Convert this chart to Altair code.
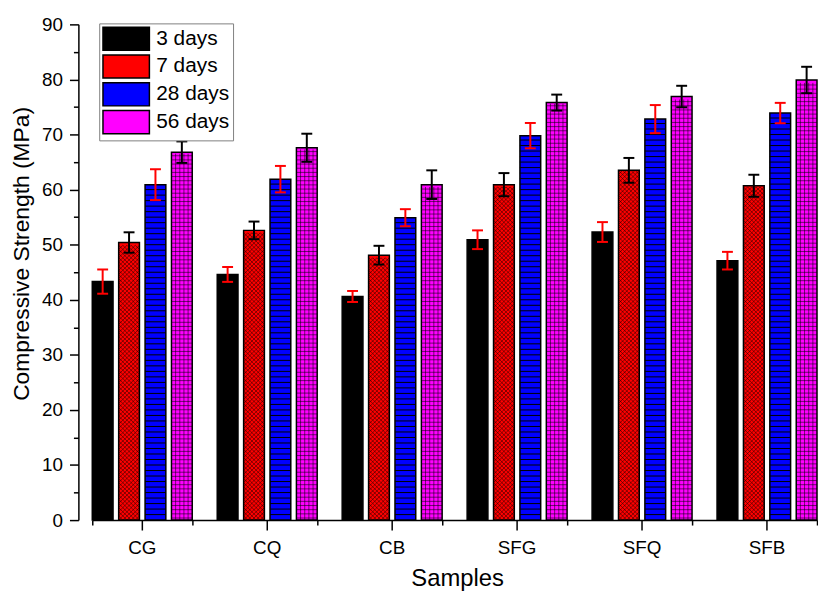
import altair as alt
import pandas as pd

# ---- data ----
samples = ["CG", "CQ", "CB", "SFG", "SFQ", "SFB"]
ages = ["3 days", "7 days", "28 days", "56 days"]

strength_3d = [43.3, 44.6, 40.6, 50.9, 52.3, 47.1]
strength_7d = [50.4, 52.6, 48.1, 60.9, 63.5, 60.7]
strength_28d = [60.9, 61.9, 54.9, 69.8, 72.8, 73.9]
strength_56d = [66.8, 67.6, 60.9, 75.8, 76.9, 79.9]

err_3d = [2.2, 1.35, 1.0, 1.7, 1.8, 1.6]
err_7d = [1.85, 1.6, 1.7, 2.1, 2.25, 2.0]
err_28d = [2.8, 2.4, 1.55, 2.3, 2.55, 1.85]
err_56d = [1.95, 2.55, 2.6, 1.45, 1.95, 2.4]

major_y_ticks = list(range(0, 91, 10))
minor_y_ticks = list(range(5, 90, 10))

# ---- styles ----
fill_colors = ["#000000", "#ff0000", "#0000ff", "#ff00ff"]
err_colors = ["#ff0000", "#000000", "#ff0000", "#000000"]
FONT = "Liberation Sans"

values = [strength_3d, strength_7d, strength_28d, strength_56d]
errors = [err_3d, err_7d, err_28d, err_56d]
rows = []
for i, age in enumerate(ages):
    for j, s in enumerate(samples):
        v, e = values[i][j], errors[i][j]
        rows.append(dict(Sample=s, Age=age, Strength=v, lo=v - e, hi=v + e,
                         ecolor=err_colors[i]))
df = pd.DataFrame(rows)

# pattern glyphs (unit = half bar width)
HLINE = "M-1,0L1,0"
xc = [-0.8, -0.4, 0.0, 0.4, 0.8]
h = 0.2
CROSS = "".join(
    f"M{c - h:.4f},{-h:.4f}L{c + h:.4f},{h:.4f}M{c + h:.4f},{-h:.4f}L{c - h:.4f},{h:.4f}"
    for c in xc
)
gx = [-0.6, -0.2, 0.2, 0.6]
GRID = "M-1,0L1,0" + "".join(f"M{c},-0.2L{c},0.2" for c in gx)


def xenc(axis=None):
    return alt.X("Sample:N", sort=samples,
                 scale=alt.Scale(domain=samples, range=[14, 745],
                                 paddingInner=0.2, paddingOuter=0),
                 axis=axis)


xoff = alt.XOffset("Age:N", sort=ages,
                   scale=alt.Scale(domain=ages, paddingInner=0.213, paddingOuter=0))


def yenc(field, axis=None):
    return alt.Y(f"{field}:Q", scale=alt.Scale(domain=[0, 90], nice=False), axis=axis)


x_main_axis = alt.Axis(
    title="Samples", titleFontSize=24, titleFont=FONT, titleFontWeight="normal",
    titleX=382, titleY=66, titleBaseline="alphabetic", titleColor="black",
    labelFontSize=19, labelFont=FONT, labelColor="black", labelAngle=0,
    labelPadding=9, tickSize=10, tickWidth=1.5, tickColor="black",
    domainColor="black", domainWidth=1.5, grid=False, orient="bottom",
)
x_minor_axis = alt.Axis(
    title=None, labels=False, domain=False, tickBand="extent", tickSize=5,
    tickWidth=1.5, tickColor="black", grid=False, orient="bottom",
)
y_axis = alt.Axis(
    title="Compressive Strength (MPa)", titleFontSize=23, titleFont=FONT,
    titleFontWeight="normal", titleColor="black", titleX=-57, titleY=231,
    titleBaseline="middle", titleAngle=270, titleAlign="center",
    values=major_y_ticks,
    labelFontSize=19, labelFont=FONT, labelColor="black", labelPadding=7,
    tickSize=9, tickWidth=1.5, tickColor="black",
    domainColor="black", domainWidth=1.5, grid=False, orient="left",
)
y_minor_axis = alt.Axis(
    title=None, labels=False, domain=False, values=minor_y_ticks, tickSize=5,
    tickWidth=1.5, tickColor="black", grid=False, orient="left",
)

legend = alt.Legend(
    title=None, orient="none", legendX=21, legendY=-1,
    symbolType="M-1,-1L3,-1L3,1L-1,1Z", symbolSize=548,
    symbolStrokeColor="black", symbolStrokeWidth=1.5, symbolOpacity=1,
    labelFontSize=21, labelFont=FONT, labelColor="black", labelOffset=29.5,
    labelLimit=300, padding=3, rowPadding=-5.6,
    strokeColor="#808080", fillColor="white",
)

bars = alt.Chart(df).mark_bar(stroke="black", strokeWidth=1.5).encode(
    x=xenc(x_main_axis), xOffset=xoff, y=yenc("Strength", y_axis),
    color=alt.Color("Age:N", sort=ages,
                    scale=alt.Scale(domain=ages, range=fill_colors), legend=legend),
)


def pattern(age, expr, shape, sw):
    return (
        alt.Chart(df)
        .transform_filter(alt.datum.Age == age)
        .transform_calculate(py=expr)
        .transform_flatten(["py"])
        .mark_point(shape=shape, size=441, filled=False, stroke="black",
                    strokeWidth=sw, opacity=1)
        .encode(x=xenc(), xOffset=xoff, y=yenc("py"))
    )


red_pat = pattern("7 days", "sequence(0.378, datum.Strength - 0.3, 0.756)", CROSS, 0.5)
blue_pat = pattern("28 days", "sequence(1, datum.Strength, 1)", HLINE, 1)
mag_pat = pattern("56 days", "sequence(0.378, datum.Strength - 0.3, 0.756)", GRID, 0.55)

err_rule = alt.Chart(df).mark_rule(strokeWidth=2).encode(
    x=xenc(x_minor_axis), xOffset=xoff, y=yenc("lo"), y2="hi:Q",
    stroke=alt.Stroke("ecolor:N", scale=None),
)
cap_lo = alt.Chart(df).mark_point(shape="stroke", size=121, strokeWidth=2,
                                  filled=False, opacity=1).encode(
    x=xenc(), xOffset=xoff, y=yenc("lo", y_minor_axis),
    stroke=alt.Stroke("ecolor:N", scale=None))
cap_hi = alt.Chart(df).mark_point(shape="stroke", size=121, strokeWidth=2,
                                  filled=False, opacity=1).encode(
    x=xenc(), xOffset=xoff, y=yenc("hi"), stroke=alt.Stroke("ecolor:N", scale=None))

chart = (
    alt.layer(bars, red_pat, blue_pat, mag_pat, err_rule, cap_lo, cap_hi)
    .resolve_axis(x="independent", y="independent")
    .properties(width=745, height=500, autosize="none",
                padding={"left": 71, "top": 14, "right": 1, "bottom": 69},
                background="white")
    .configure_view(stroke=None)
    .configure_axis(labelFont=FONT, labelFontSize=19, labelColor="black",
                    titleFont=FONT, titleColor="black", grid=False)
)

chart.save("out.html", embed_options={"renderer": "svg", "actions": False})
